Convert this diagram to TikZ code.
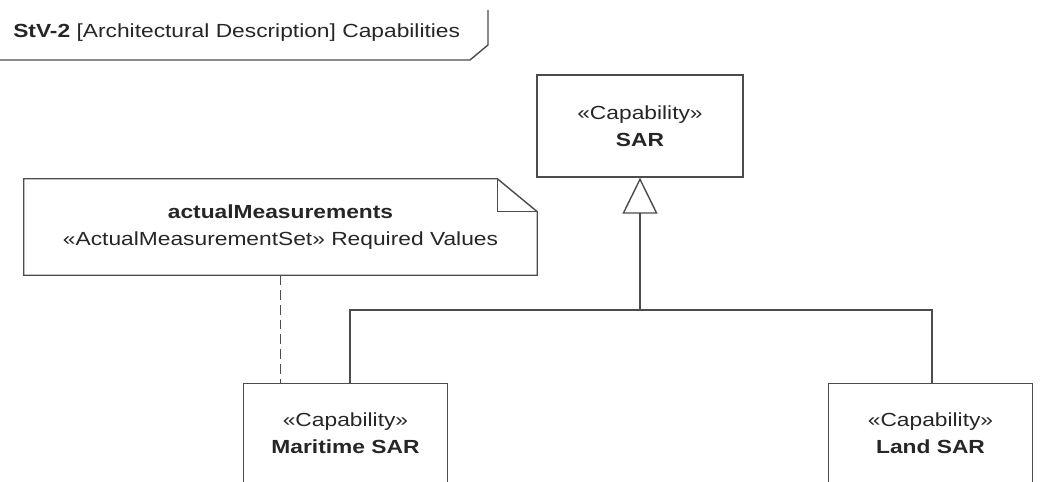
\documentclass[tikz,border=0pt]{standalone}
\usepackage{fontspec}
\setmainfont{Liberation Sans}[FakeStretch=1.2]
\usepackage{tikz}
\usetikzlibrary{arrows.meta,positioning}

\begin{document}
\begin{tikzpicture}[font=\fontsize{13.5}{19.2}\selectfont,
  ink/.style={draw=black!70,line width=1pt},
  capbox/.style={ink,minimum width=5.15cm,minimum height=2.55cm,inner sep=0pt},
  lowbox/.style={ink,anchor=north,minimum width=5.1cm,minimum height=3cm,inner sep=0pt},
  captext/.style={align=center,text=black!85,inner sep=0pt},
  gen/.style={ink,-{Triangle[open,length=0.9cm,width=0.875cm]}}]
\useasboundingbox (0,0) rectangle (26.025,12.05);
\clip (0,0) rectangle (26.025,12.05);
% frame
\node[anchor=west,inner sep=0pt,text=black!85] (title) at (0.325,11.225) {\textbf{StV-2} [Architectural Description] Capabilities};
\draw[ink] (12.2,11.8) -- (12.2,10.925) -- (11.75,10.55) -- (0,10.55);
% capabilities
\node[capbox,captext] (sar) at (16,8.9) {«Capability»\\\textbf{SAR}};
\node[lowbox] (maritime) at (8.6375,2.475) {};
\node[captext] (maritimetext) at (8.6375,1.21) {«Capability»\\\textbf{Maritime SAR}};
\node[lowbox] (land) at (23.2625,2.475) {};
\node[captext] (landtext) at (23.2625,1.21) {«Capability»\\\textbf{Land SAR}};
% note
\node[captext,minimum width=12.825cm,minimum height=2.4cm] (note) at (7.0125,6.375) {\textbf{actualMeasurements}\\«ActualMeasurementSet» Required Values};
\draw[ink] (note.south west) -- (note.north west) -- ([xshift=-1cm]note.north east)
  -- ([yshift=-0.825cm]note.north east) -- (note.south east) -- cycle;
\draw[ink] ([xshift=-1cm]note.north east) |- ([yshift=-0.825cm]note.north east);
\draw[ink,dash pattern=on 7pt off 3.5pt] (note.south) -- (note.south |- maritime.north);
% generalization
\coordinate (fork) at (16,4.3);
\draw[gen] (fork) -- (sar.south);
\draw[ink] ([xshift=0.11cm]maritime.north) |- (fork) -| ([xshift=0.04cm]land.north);
\end{tikzpicture}
\end{document}
